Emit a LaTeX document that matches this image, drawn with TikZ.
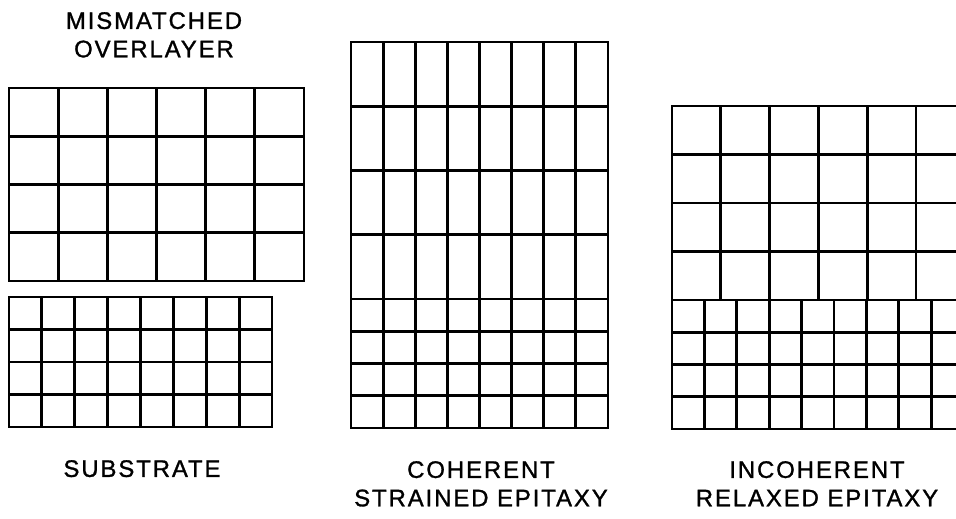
\documentclass[tikz,border=0pt]{standalone}
\usepackage{fontspec}
\setmainfont{Liberation Sans}
\newfontfamily\capsfont{Liberation Sans}[LetterSpace=8, FakeBold=1.2]
\usepackage{tikz}
\tikzset{
  cell/.style     = {line width=2.9bp, line cap=rect, line join=miter, draw=black},
  caplabel/.style = {align=center, inner sep=0pt, anchor=north,
                     font=\capsfont\fontsize{24}{28.5}\selectfont},
}

\begin{document}
\begin{tikzpicture}[x=1bp, y=-1bp]

  \useasboundingbox (0,0) rectangle (956,519);
  \clip (0,0) rectangle (956,519);

  % mismatched overlayer
  \draw[cell] (9,88) rectangle (304,281);
  \foreach \i in {1,...,5} \draw[cell] (9+\i*49.17,88) -- ++(0,193);
  \foreach \j in {1,2,3} \draw[cell] (9,88+\j*48.25) -- ++(295,0);

  % substrate
  \draw[cell] (9,297) rectangle (272,427);
  \foreach \i in {1,...,7} \draw[cell] (9+\i*32.875,297) -- ++(0,130);
  \foreach \j in {1,2,3} \draw[cell] (9,297+\j*32.5) -- ++(263,0);

  % coherent
  \draw[cell] (351,42) rectangle (608,428);
  \foreach \i in {1,...,7} \draw[cell] (351+\i*32.125,42) -- ++(0,386);
  \foreach \j in {1,2,3} \draw[cell] (351,42+\j*64.25) -- ++(257,0);
  \draw[cell] (351,299) -- (608,299);
  \foreach \j in {1,2,3} \draw[cell] (351,299+\j*32.25) -- ++(257,0);

  % incoherent
  \draw[cell] (672,106) rectangle (965,300);
  \foreach \i in {1,...,5} \draw[cell] (672+\i*48.8,106) -- ++(0,194);
  \foreach \j in {1,2,3} \draw[cell] (672,106+\j*48.5) -- ++(293,0);
  \draw[cell] (672,300) rectangle (965,429);
  \foreach \i in {1,...,8} \draw[cell] (672+\i*32.4,300) -- ++(0,129);
  \foreach \j in {1,2,3} \draw[cell] (672,300+\j*32.25) -- ++(293,0);

  \node[caplabel] (overlayer) at (154,12) {MISMATCHED\\OVERLAYER};
  \node[caplabel] (substrate) at (142,460) {SUBSTRATE};
  \node[caplabel] (coherent) at (481,461) {COHERENT\\STRAINED EPITAXY};
  \node[caplabel] (incoherent) at (817,461) {INCOHERENT\\RELAXED EPITAXY};

\end{tikzpicture}
\end{document}
